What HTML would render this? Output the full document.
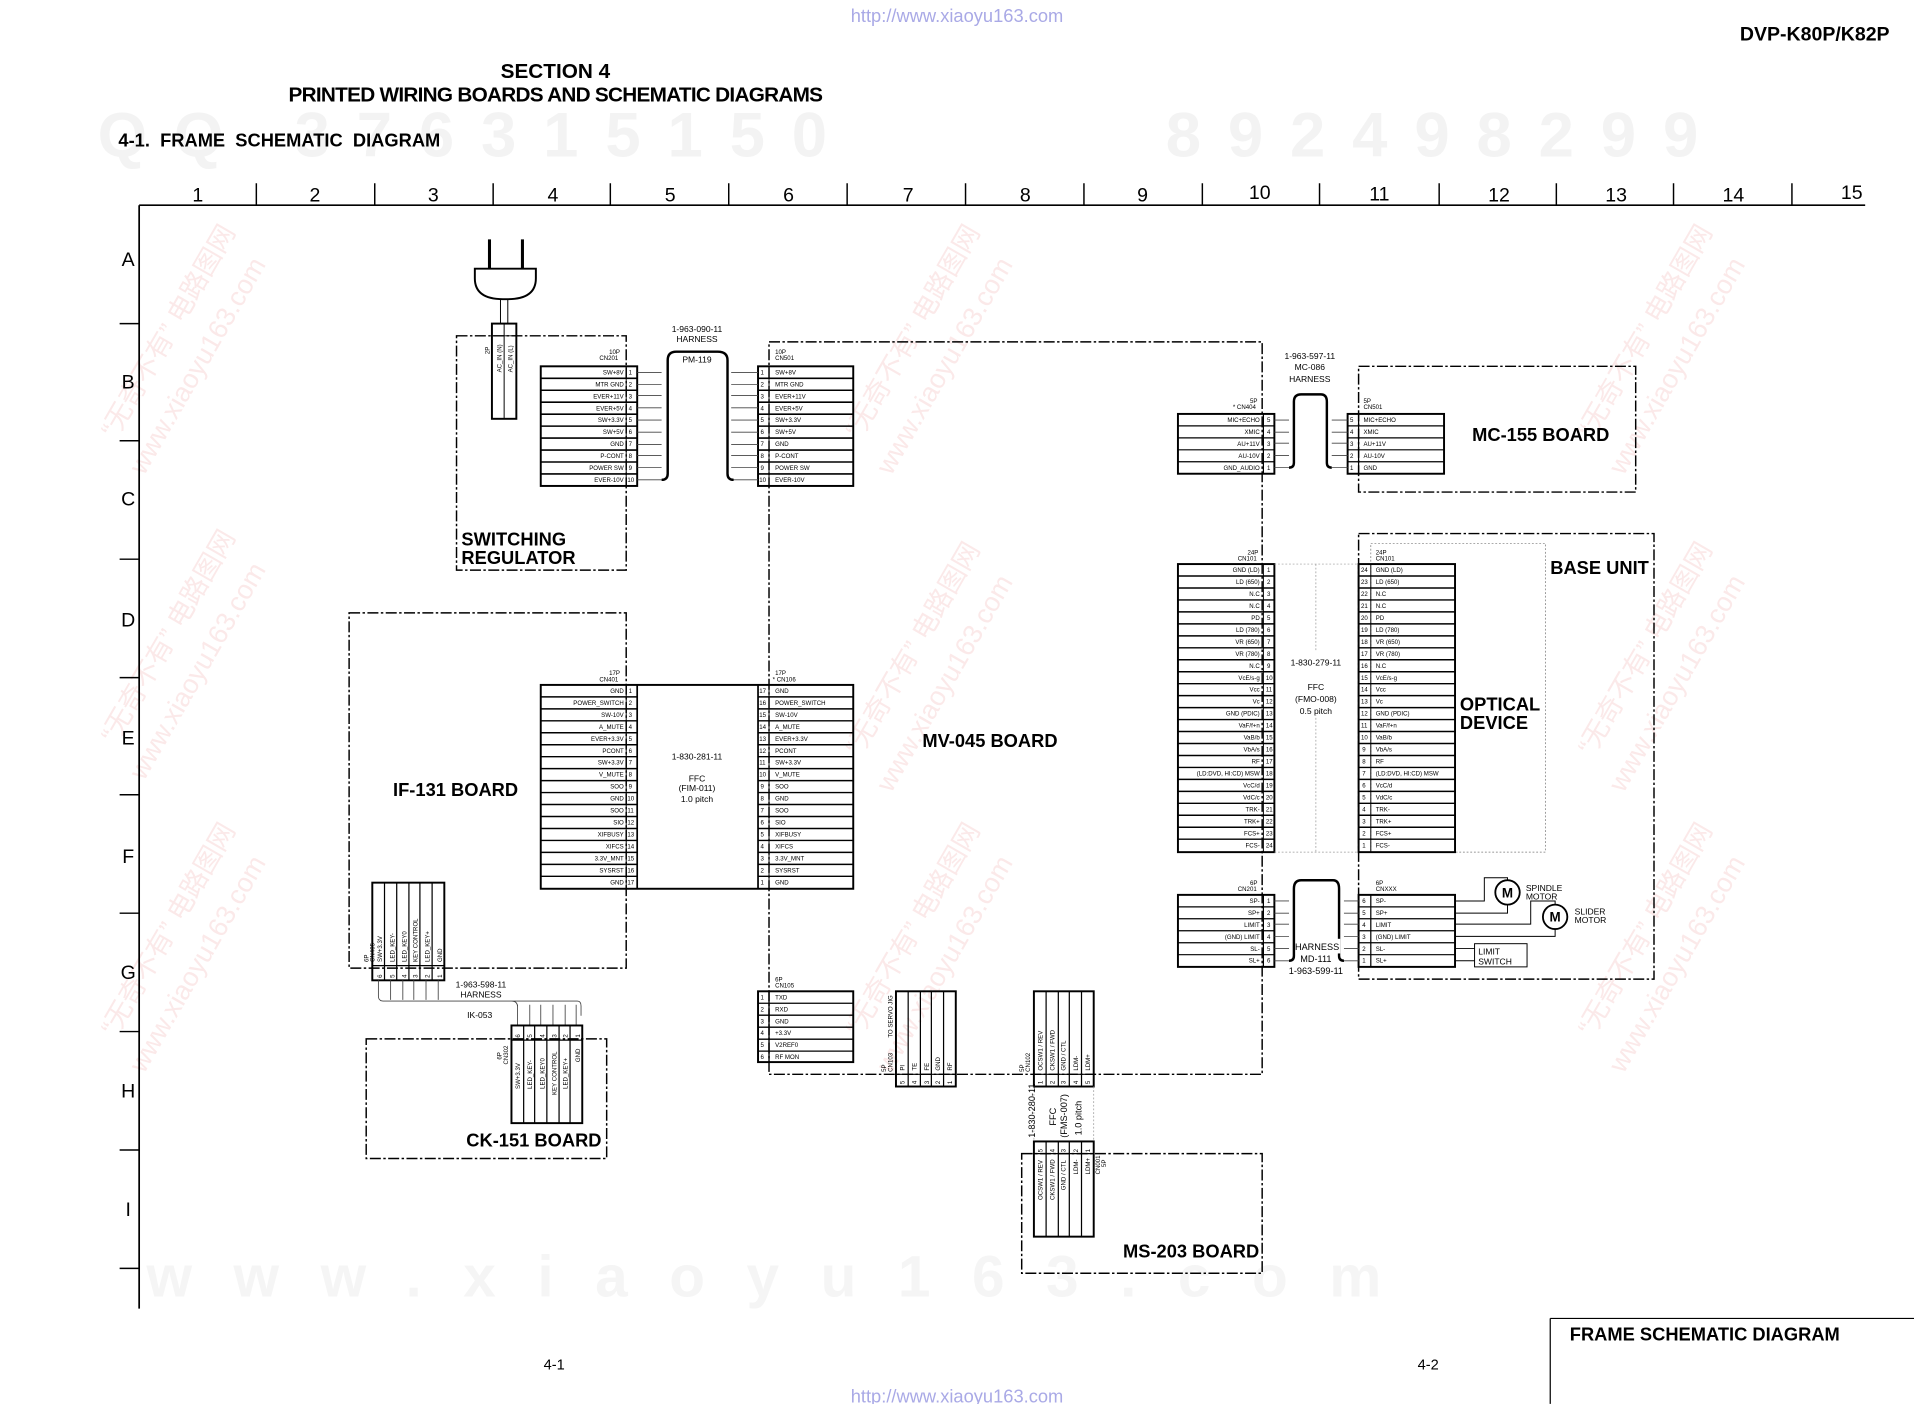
<!DOCTYPE html>
<html><head><meta charset="utf-8"><style>
html,body{margin:0;padding:0;background:#fff;width:1914px;height:1404px;overflow:hidden}
svg{display:block}
text{font-family:"Liberation Sans",sans-serif;fill:#000}
.t{font-size:5px}
.b{font-weight:bold}
.d{fill:none;stroke:#000;stroke-width:1.2;stroke-dasharray:9,2,2,2}
.k{fill:none;stroke:#000;stroke-width:1.6}
.s{fill:none;stroke:#000;stroke-width:0.8}
.w{fill:none;stroke:#444;stroke-width:0.7}
.wm{fill:#fbe9e9 !important}
</style></head><body>
<svg width="1914" height="1404" viewBox="0 0 1568 1150" xmlns="http://www.w3.org/2000/svg">
<rect width="1568" height="1150" fill="#fff"/>
<!-- watermarks -->
<text x="80" y="128" font-size="52" style="fill:#f3f3f3;font-weight:bold;letter-spacing:22px">QQ 376315150</text>
<text x="955" y="128" font-size="52" style="fill:#f3f3f3;font-weight:bold;letter-spacing:22px">892498299</text>
<text x="120" y="1062" font-size="48" style="fill:#f5f5f5;font-weight:bold;letter-spacing:34px">www.xiaoyu163.com</text>
<g font-size="22" font-family="Liberation Sans, Noto Sans CJK SC, sans-serif">
<text class="wm" transform="translate(118,390) rotate(-60)">www.xiaoyu163.com</text>
<text class="wm" transform="translate(95,360) rotate(-60)" font-family="Noto Sans CJK SC, sans-serif">“无奇不有” 电路图网</text>
<text class="wm" transform="translate(730,390) rotate(-60)">www.xiaoyu163.com</text>
<text class="wm" transform="translate(705,360) rotate(-60)" font-family="Noto Sans CJK SC, sans-serif">“无奇不有” 电路图网</text>
<text class="wm" transform="translate(1330,390) rotate(-60)">www.xiaoyu163.com</text>
<text class="wm" transform="translate(1305,360) rotate(-60)" font-family="Noto Sans CJK SC, sans-serif">“无奇不有” 电路图网</text>
<text class="wm" transform="translate(118,640) rotate(-60)">www.xiaoyu163.com</text>
<text class="wm" transform="translate(95,610) rotate(-60)" font-family="Noto Sans CJK SC, sans-serif">“无奇不有” 电路图网</text>
<text class="wm" transform="translate(730,650) rotate(-60)">www.xiaoyu163.com</text>
<text class="wm" transform="translate(705,620) rotate(-60)" font-family="Noto Sans CJK SC, sans-serif">“无奇不有” 电路图网</text>
<text class="wm" transform="translate(1330,650) rotate(-60)">www.xiaoyu163.com</text>
<text class="wm" transform="translate(1305,620) rotate(-60)" font-family="Noto Sans CJK SC, sans-serif">“无奇不有” 电路图网</text>
<text class="wm" transform="translate(118,880) rotate(-60)">www.xiaoyu163.com</text>
<text class="wm" transform="translate(95,850) rotate(-60)" font-family="Noto Sans CJK SC, sans-serif">“无奇不有” 电路图网</text>
<text class="wm" transform="translate(730,880) rotate(-60)">www.xiaoyu163.com</text>
<text class="wm" transform="translate(705,850) rotate(-60)" font-family="Noto Sans CJK SC, sans-serif">“无奇不有” 电路图网</text>
<text class="wm" transform="translate(1330,880) rotate(-60)">www.xiaoyu163.com</text>
<text class="wm" transform="translate(1305,850) rotate(-60)" font-family="Noto Sans CJK SC, sans-serif">“无奇不有” 电路图网</text>
</g>
<!-- header -->
<text x="784" y="18" font-size="15" text-anchor="middle" style="fill:#a9a9e6">http://www.xiaoyu163.com</text>
<text x="1548" y="33" font-size="16" class="b" text-anchor="end">DVP-K80P/K82P</text>
<text x="455" y="64" font-size="17" class="b" text-anchor="middle">SECTION 4</text>
<text x="455" y="83" font-size="17" class="b" text-anchor="middle" letter-spacing="-0.6">PRINTED WIRING BOARDS AND SCHEMATIC DIAGRAMS</text>
<text x="97" y="120" font-size="15" class="b" style="white-space:pre" xml:space="preserve">4-1.  FRAME  SCHEMATIC  DIAGRAM</text>
<!-- ruler -->
<path d="M114 168H1528M114 168V1072" stroke="#000" stroke-width="1.4" fill="none"/>
<path d="M210 150V168M307 150V168M404 150V168M500 150V168M597 150V168M694 150V168M791 150V168M888 150V168M985 150V168M1081 150V168M1179 150V168M1275 150V168M1371 150V168M1468 150V168" stroke="#000" stroke-width="1.2"/>
<g font-size="16" text-anchor="middle">
<text x="162" y="165">1</text><text x="258" y="165">2</text><text x="355" y="165">3</text><text x="453" y="165">4</text><text x="549" y="165">5</text><text x="646" y="165">6</text><text x="744" y="165">7</text><text x="840" y="165">8</text><text x="936" y="165">9</text><text x="1032" y="163">10</text><text x="1130" y="164">11</text><text x="1228" y="165">12</text><text x="1324" y="165">13</text><text x="1420" y="165">14</text><text x="1517" y="163">15</text>
<text x="105" y="218">A</text><text x="105" y="318">B</text><text x="105" y="414">C</text><text x="105" y="513">D</text><text x="105" y="610">E</text><text x="105" y="707">F</text><text x="105" y="802">G</text><text x="105" y="899">H</text><text x="105" y="996">I</text>
</g>
<path d="M98 265H114M98 361H114M98 458H114M98 555H114M98 651H114M98 748H114M98 845H114M98 942H114M98 1039H114" stroke="#000" stroke-width="1.2"/>
<!-- footer -->
<path d="M1270 1080H1568M1270 1080V1150" stroke="#000" stroke-width="1"/>
<text x="1286" y="1098" font-size="15" class="b">FRAME SCHEMATIC DIAGRAM</text>
<text x="454" y="1122" font-size="12" text-anchor="middle">4-1</text>
<text x="1170" y="1122" font-size="12" text-anchor="middle">4-2</text>
<text x="784" y="1149" font-size="15" text-anchor="middle" style="fill:#a9a9e6">http://www.xiaoyu163.com</text>

<!-- dashed boards -->
<rect x="374" y="275" width="139" height="192" class="d"/>
<path d="M630 835V280H1034V880H630V835" class="d"/>
<rect x="1113" y="300" width="227" height="103" class="d"/>
<rect x="1113" y="437" width="242" height="365" class="d"/>
<rect x="1123" y="445" width="143" height="253" fill="none" stroke="#777" stroke-width="0.6" stroke-dasharray="1.5,1.5"/>
<rect x="286" y="502" width="227" height="291" class="d"/>
<rect x="300" y="851" width="197" height="98" class="d"/>
<rect x="837" y="945" width="197" height="98" class="d"/>

<g class="b" font-size="15">
<text x="378" y="447">SWITCHING</text><text x="378" y="462">REGULATOR</text>
<text x="1206" y="361">MC-155 BOARD</text>
<text x="1270" y="470">BASE UNIT</text>
<text x="1196" y="582">OPTICAL</text><text x="1196" y="597">DEVICE</text>
<text x="811" y="612" text-anchor="middle">MV-045 BOARD</text>
<text x="322" y="652">IF-131 BOARD</text>
<text x="382" y="939">CK-151 BOARD</text>
<text x="920" y="1030">MS-203 BOARD</text>
</g>

<!-- plug -->
<path d="M401 196V220M428 196V220" stroke="#000" stroke-width="2.5"/>
<path d="M389 220H439V228Q439 245 416 245H412Q389 245 389 228Z" fill="#fff" stroke="#000" stroke-width="1.6"/>
<path d="M410 245V265M416 245V265" class="s"/>
<rect x="403" y="265" width="20" height="78" class="k"/>
<path d="M413 265V343M403 275H423" class="s"/>
<g class="t"><text transform="translate(401,290) rotate(-90)">2P</text><text transform="translate(411,305) rotate(-90)">AC_IN (N)</text><text transform="translate(420,305) rotate(-90)">AC_IN (L)</text></g>

<!-- CN201 / CN501 10 rows -->
<g transform="translate(0,300)">
<rect x="443" y="0" width="79" height="98" class="k"/><rect x="621" y="0" width="78" height="98" class="k"/>
<path d="M443 9.8h79M443 19.6h79M443 29.4h79M443 39.2h79M443 49h79M443 58.8h79M443 68.6h79M443 78.4h79M443 88.2h79M621 9.8h78M621 19.6h78M621 29.4h78M621 39.2h78M621 49h78M621 58.8h78M621 68.6h78M621 78.4h78M621 88.2h78" stroke="#000" stroke-width="1.3"/>
<path d="M513 0V98M630 0V98" class="s"/>
<g class="t" text-anchor="end"><text x="511" y="6.6">SW+8V</text><text x="511" y="16.4">MTR GND</text><text x="511" y="26.2">EVER+11V</text><text x="511" y="36">EVER+5V</text><text x="511" y="45.8">SW+3.3V</text><text x="511" y="55.6">SW+5V</text><text x="511" y="65.4">GND</text><text x="511" y="75.2">P-CONT</text><text x="511" y="85">POWER SW</text><text x="511" y="94.8">EVER-10V</text></g>
<g class="t"><text x="515" y="6.6">1</text><text x="515" y="16.4">2</text><text x="515" y="26.2">3</text><text x="515" y="36">4</text><text x="515" y="45.8">5</text><text x="515" y="55.6">6</text><text x="515" y="65.4">7</text><text x="515" y="75.2">8</text><text x="515" y="85">9</text><text x="514" y="94.8">10</text>
<text x="623" y="6.6">1</text><text x="623" y="16.4">2</text><text x="623" y="26.2">3</text><text x="623" y="36">4</text><text x="623" y="45.8">5</text><text x="623" y="55.6">6</text><text x="623" y="65.4">7</text><text x="623" y="75.2">8</text><text x="623" y="85">9</text><text x="622" y="94.8">10</text>
<text x="635" y="6.6">SW+8V</text><text x="635" y="16.4">MTR GND</text><text x="635" y="26.2">EVER+11V</text><text x="635" y="36">EVER+5V</text><text x="635" y="45.8">SW+3.3V</text><text x="635" y="55.6">SW+5V</text><text x="635" y="65.4">GND</text><text x="635" y="75.2">P-CONT</text><text x="635" y="85">POWER SW</text><text x="635" y="94.8">EVER-10V</text>
<text x="491" y="-5">CN201</text><text x="499" y="-10">10P</text><text x="635" y="-5">CN501</text><text x="635" y="-10">10P</text></g>
<path d="M522 5H542M522 15H542M522 24H542M522 34H542M522 44H542M522 54H542M522 64H542M522 73H542M522 83H542M522 93H542M599 5H621M599 15H621M599 24H621M599 34H621M599 44H621M599 54H621M599 64H621M599 73H621M599 83H621M599 93H621" class="w"/>
<path d="M542 93Q547 93 547 88V-5Q547 -12 554 -12H588Q596 -12 596 -5V88Q596 93 601 93" fill="none" stroke="#000" stroke-width="2"/>
</g>
<text x="571" y="272" font-size="7" text-anchor="middle">1-963-090-11</text><text x="571" y="280" font-size="7" text-anchor="middle">HARNESS</text><text x="571" y="297" font-size="7" text-anchor="middle">PM-119</text>

<!-- CN404 / MC CN501 -->
<g transform="translate(0,339)">
<rect x="965" y="0" width="79" height="49" class="k"/><rect x="1104" y="0" width="79" height="49" class="k"/>
<path d="M965 9.8h79M965 19.6h79M965 29.4h79M965 39.2h79M1104 9.8h79M1104 19.6h79M1104 29.4h79M1104 39.2h79M1035 0V49M1113 0V49" stroke="#000" stroke-width="1"/>
<g class="t" text-anchor="end"><text x="1032" y="6.6">MIC+ECHO</text><text x="1032" y="16.4">XMIC</text><text x="1032" y="26.2">AU+11V</text><text x="1032" y="36">AU-10V</text><text x="1032" y="45.8">GND_AUDIO</text></g>
<g class="t"><text x="1038" y="6.6">5</text><text x="1038" y="16.4">4</text><text x="1038" y="26.2">3</text><text x="1038" y="36">2</text><text x="1038" y="45.8">1</text>
<text x="1106" y="6.6">5</text><text x="1106" y="16.4">4</text><text x="1106" y="26.2">3</text><text x="1106" y="36">2</text><text x="1106" y="45.8">1</text>
<text x="1117" y="6.6">MIC+ECHO</text><text x="1117" y="16.4">XMIC</text><text x="1117" y="26.2">AU+11V</text><text x="1117" y="36">AU-10V</text><text x="1117" y="45.8">GND</text>
<text x="1010" y="-4">* CN404</text><text x="1024" y="-9">5P</text><text x="1117" y="-4">CN501</text><text x="1117" y="-9">5P</text></g>
<path d="M1044 5H1056M1044 15H1056M1044 24H1056M1044 34H1056M1044 44H1056M1091 5H1104M1091 15H1104M1091 24H1104M1091 34H1104M1091 44H1104" class="w"/>
<path d="M1056 44Q1060 44 1060 40V-10Q1060 -16 1066 -16H1082Q1087 -16 1087 -10V40Q1087 44 1091 44" fill="none" stroke="#000" stroke-width="2"/>
</g>
<g font-size="7" text-anchor="middle"><text x="1073" y="294">1-963-597-11</text><text x="1073" y="303">MC-086</text><text x="1073" y="313">HARNESS</text></g>

<!-- CN101 24 rows -->
<g transform="translate(0,462)">
<rect x="965" y="0" width="79" height="236" class="k"/><rect x="1113" y="0" width="79" height="236" class="k"/>
<path d="M1044 0H1113M1044 236H1113M1078 0V236" stroke="#999" stroke-width="0.6" stroke-dasharray="1.5,1.5"/>
<path d="M965 9.8h79M965 19.6h79M965 29.4h79M965 39.2h79M965 49h79M965 58.8h79M965 68.6h79M965 78.4h79M965 88.2h79M965 98h79M965 107.8h79M965 117.6h79M965 127.4h79M965 137.2h79M965 147h79M965 156.8h79M965 166.6h79M965 176.4h79M965 186.2h79M965 196h79M965 205.8h79M965 215.6h79M965 225.4h79M1113 9.8h79M1113 19.6h79M1113 29.4h79M1113 39.2h79M1113 49h79M1113 58.8h79M1113 68.6h79M1113 78.4h79M1113 88.2h79M1113 98h79M1113 107.8h79M1113 117.6h79M1113 127.4h79M1113 137.2h79M1113 147h79M1113 156.8h79M1113 166.6h79M1113 176.4h79M1113 186.2h79M1113 196h79M1113 205.8h79M1113 215.6h79M1113 225.4h79" stroke="#000" stroke-width="1.2"/>
<path d="M1035 0V236M1123 0V236" class="s"/>
<g class="t" text-anchor="end"><text x="1032" y="6.6">GND (LD)</text><text x="1032" y="16.4">LD (650)</text><text x="1032" y="26.2">N.C</text><text x="1032" y="36">N.C</text><text x="1032" y="45.8">PD</text><text x="1032" y="55.6">LD (780)</text><text x="1032" y="65.4">VR (650)</text><text x="1032" y="75.2">VR (780)</text><text x="1032" y="85">N.C</text><text x="1032" y="94.8">VcE/s-g</text><text x="1032" y="104.6">Vcc</text><text x="1032" y="114.4">Vc</text><text x="1032" y="124.2">GND (PDIC)</text><text x="1032" y="134">VaF/f+n</text><text x="1032" y="143.8">VaB/b</text><text x="1032" y="153.6">VbA/s</text><text x="1032" y="163.4">RF</text><text x="1032" y="173.2">(LD:DVD, HI:CD) MSW</text><text x="1032" y="183">VcC/d</text><text x="1032" y="192.8">VdC/c</text><text x="1032" y="202.6">TRK-</text><text x="1032" y="212.4">TRK+</text><text x="1032" y="222.2">FCS+</text><text x="1032" y="232">FCS-</text></g>
<g class="t"><text x="1038" y="6.6">1</text><text x="1038" y="16.4">2</text><text x="1038" y="26.2">3</text><text x="1038" y="36">4</text><text x="1038" y="45.8">5</text><text x="1038" y="55.6">6</text><text x="1038" y="65.4">7</text><text x="1038" y="75.2">8</text><text x="1038" y="85">9</text><text x="1037" y="94.8">10</text><text x="1037" y="104.6">11</text><text x="1037" y="114.4">12</text><text x="1037" y="124.2">13</text><text x="1037" y="134">14</text><text x="1037" y="143.8">15</text><text x="1037" y="153.6">16</text><text x="1037" y="163.4">17</text><text x="1037" y="173.2">18</text><text x="1037" y="183">19</text><text x="1037" y="192.8">20</text><text x="1037" y="202.6">21</text><text x="1037" y="212.4">22</text><text x="1037" y="222.2">23</text><text x="1037" y="232">24</text>
<text x="1115" y="6.6">24</text><text x="1115" y="16.4">23</text><text x="1115" y="26.2">22</text><text x="1115" y="36">21</text><text x="1115" y="45.8">20</text><text x="1115" y="55.6">19</text><text x="1115" y="65.4">18</text><text x="1115" y="75.2">17</text><text x="1115" y="85">16</text><text x="1115" y="94.8">15</text><text x="1115" y="104.6">14</text><text x="1115" y="114.4">13</text><text x="1115" y="124.2">12</text><text x="1115" y="134">11</text><text x="1115" y="143.8">10</text><text x="1116" y="153.6">9</text><text x="1116" y="163.4">8</text><text x="1116" y="173.2">7</text><text x="1116" y="183">6</text><text x="1116" y="192.8">5</text><text x="1116" y="202.6">4</text><text x="1116" y="212.4">3</text><text x="1116" y="222.2">2</text><text x="1116" y="232">1</text>
<text x="1127" y="6.6">GND (LD)</text><text x="1127" y="16.4">LD (650)</text><text x="1127" y="26.2">N.C</text><text x="1127" y="36">N.C</text><text x="1127" y="45.8">PD</text><text x="1127" y="55.6">LD (780)</text><text x="1127" y="65.4">VR (650)</text><text x="1127" y="75.2">VR (780)</text><text x="1127" y="85">N.C</text><text x="1127" y="94.8">VcE/s-g</text><text x="1127" y="104.6">Vcc</text><text x="1127" y="114.4">Vc</text><text x="1127" y="124.2">GND (PDIC)</text><text x="1127" y="134">VaF/f+n</text><text x="1127" y="143.8">VaB/b</text><text x="1127" y="153.6">VbA/s</text><text x="1127" y="163.4">RF</text><text x="1127" y="173.2">(LD:DVD, HI:CD) MSW</text><text x="1127" y="183">VcC/d</text><text x="1127" y="192.8">VdC/c</text><text x="1127" y="202.6">TRK-</text><text x="1127" y="212.4">TRK+</text><text x="1127" y="222.2">FCS+</text><text x="1127" y="232">FCS-</text>
<text x="1014" y="-3">CN101</text><text x="1022" y="-8">24P</text><text x="1127" y="-3">CN101</text><text x="1127" y="-8">24P</text></g>
</g>
<g font-size="7" text-anchor="middle"><rect x="1050" y="534" width="56" height="52" fill="#fff"/><text x="1078" y="545">1-830-279-11</text><text x="1078" y="565">FFC</text><text x="1078" y="575">(FMO-008)</text><text x="1078" y="585">0.5 pitch</text></g>

<!-- 6P motor connectors -->
<g transform="translate(0,733)">
<rect x="965" y="0" width="79" height="59" class="k"/><rect x="1113" y="0" width="79" height="59" class="k"/>
<path d="M965 9.8h79M965 19.6h79M965 29.4h79M965 39.2h79M965 49h79M1113 9.8h79M1113 19.6h79M1113 29.4h79M1113 39.2h79M1113 49h79M1035 0V59M1123 0V59" stroke="#000" stroke-width="1"/>
<g class="t" text-anchor="end"><text x="1032" y="6.6">SP-</text><text x="1032" y="16.4">SP+</text><text x="1032" y="26.2">LIMIT</text><text x="1032" y="36">(GND) LIMIT</text><text x="1032" y="45.8">SL-</text><text x="1032" y="55.6">SL+</text></g>
<g class="t"><text x="1038" y="6.6">1</text><text x="1038" y="16.4">2</text><text x="1038" y="26.2">3</text><text x="1038" y="36">4</text><text x="1038" y="45.8">5</text><text x="1038" y="55.6">6</text>
<text x="1116" y="6.6">6</text><text x="1116" y="16.4">5</text><text x="1116" y="26.2">4</text><text x="1116" y="36">3</text><text x="1116" y="45.8">2</text><text x="1116" y="55.6">1</text>
<text x="1127" y="6.6">SP-</text><text x="1127" y="16.4">SP+</text><text x="1127" y="26.2">LIMIT</text><text x="1127" y="36">(GND) LIMIT</text><text x="1127" y="45.8">SL-</text><text x="1127" y="55.6">SL+</text>
<text x="1014" y="-3">CN201</text><text x="1024" y="-8">6P</text><text x="1127" y="-3">CNXXX</text><text x="1127" y="-8">6P</text></g>
<path d="M1044 5H1056M1044 15H1056M1044 24H1056M1044 34H1056M1044 44H1056M1044 54H1056M1101 5H1113M1101 15H1113M1101 24H1113M1101 34H1113M1101 44H1113M1101 54H1113" class="w"/>
<path d="M1056 54Q1060 54 1060 50V-5Q1060 -12 1066 -12H1092Q1097 -12 1097 -5V50Q1097 54 1101 54" fill="none" stroke="#000" stroke-width="2"/>
<path d="M1192 5H1216V-14H1235V-8M1192 15H1235V8M1192 24H1254V5H1274V8M1192 34H1274V28M1192 44H1208M1192 54H1208" class="s"/>
</g>
<rect x="1064" y="769" width="34" height="12" fill="#fff"/>
<g font-size="7.5" text-anchor="middle"><text x="1079" y="778">HARNESS</text><text x="1078" y="788">MD-111</text><text x="1078" y="798">1-963-599-11</text></g>
<circle cx="1235" cy="731" r="10" fill="#fff" stroke="#000" stroke-width="1.5"/><text x="1235" y="735" font-size="11" class="b" text-anchor="middle">M</text>
<circle cx="1274" cy="751" r="10" fill="#fff" stroke="#000" stroke-width="1.5"/><text x="1274" y="755" font-size="11" class="b" text-anchor="middle">M</text>
<g font-size="7"><text x="1250" y="730">SPINDLE</text><text x="1250" y="737">MOTOR</text><text x="1290" y="749">SLIDER</text><text x="1290" y="756">MOTOR</text><text x="1211" y="782">LIMIT</text><text x="1211" y="790">SWITCH</text></g>
<rect x="1208" y="773" width="43" height="19" class="s"/>

<!-- CN401 / CN106 17 rows -->
<g transform="translate(0,561)">
<rect x="443" y="0" width="256" height="167" class="k"/>
<path d="M522 0V167M621 0V167" stroke="#000" stroke-width="1.4"/>
<path d="M443 9.8h79M443 19.6h79M443 29.4h79M443 39.2h79M443 49h79M443 58.8h79M443 68.6h79M443 78.4h79M443 88.2h79M443 98h79M443 107.8h79M443 117.6h79M443 127.4h79M443 137.2h79M443 147h79M443 156.8h79M621 9.8h78M621 19.6h78M621 29.4h78M621 39.2h78M621 49h78M621 58.8h78M621 68.6h78M621 78.4h78M621 88.2h78M621 98h78M621 107.8h78M621 117.6h78M621 127.4h78M621 137.2h78M621 147h78M621 156.8h78" stroke="#000" stroke-width="1.2"/>
<path d="M513 0V167M630 0V167" class="s"/>
<g class="t" text-anchor="end"><text x="511" y="6.6">GND</text><text x="511" y="16.4">POWER_SWITCH</text><text x="511" y="26.2">SW-10V</text><text x="511" y="36">A_MUTE</text><text x="511" y="45.8">EVER+3.3V</text><text x="511" y="55.6">PCONT</text><text x="511" y="65.4">SW+3.3V</text><text x="511" y="75.2">V_MUTE</text><text x="511" y="85">SOO</text><text x="511" y="94.8">GND</text><text x="511" y="104.6">SOO</text><text x="511" y="114.4">SIO</text><text x="511" y="124.2">XIFBUSY</text><text x="511" y="134">XIFCS</text><text x="511" y="143.8">3.3V_MNT</text><text x="511" y="153.6">SYSRST</text><text x="511" y="163.4">GND</text></g>
<g class="t"><text x="515" y="6.6">1</text><text x="515" y="16.4">2</text><text x="515" y="26.2">3</text><text x="515" y="36">4</text><text x="515" y="45.8">5</text><text x="515" y="55.6">6</text><text x="515" y="65.4">7</text><text x="515" y="75.2">8</text><text x="515" y="85">9</text><text x="514" y="94.8">10</text><text x="514" y="104.6">11</text><text x="514" y="114.4">12</text><text x="514" y="124.2">13</text><text x="514" y="134">14</text><text x="514" y="143.8">15</text><text x="514" y="153.6">16</text><text x="514" y="163.4">17</text>
<text x="622" y="6.6">17</text><text x="622" y="16.4">16</text><text x="622" y="26.2">15</text><text x="622" y="36">14</text><text x="622" y="45.8">13</text><text x="622" y="55.6">12</text><text x="622" y="65.4">11</text><text x="622" y="75.2">10</text><text x="623" y="85">9</text><text x="623" y="94.8">8</text><text x="623" y="104.6">7</text><text x="623" y="114.4">6</text><text x="623" y="124.2">5</text><text x="623" y="134">4</text><text x="623" y="143.8">3</text><text x="623" y="153.6">2</text><text x="623" y="163.4">1</text>
<text x="635" y="6.6">GND</text><text x="635" y="16.4">POWER_SWITCH</text><text x="635" y="26.2">SW-10V</text><text x="635" y="36">A_MUTE</text><text x="635" y="45.8">EVER+3.3V</text><text x="635" y="55.6">PCONT</text><text x="635" y="65.4">SW+3.3V</text><text x="635" y="75.2">V_MUTE</text><text x="635" y="85">SOO</text><text x="635" y="94.8">GND</text><text x="635" y="104.6">SOO</text><text x="635" y="114.4">SIO</text><text x="635" y="124.2">XIFBUSY</text><text x="635" y="134">XIFCS</text><text x="635" y="143.8">3.3V_MNT</text><text x="635" y="153.6">SYSRST</text><text x="635" y="163.4">GND</text>
<text x="491" y="-3">CN401</text><text x="499" y="-8">17P</text><text x="633" y="-3">* CN106</text><text x="635" y="-8">17P</text></g>
</g>
<g font-size="7" text-anchor="middle"><text x="571" y="622">1-830-281-11</text><text x="571" y="640">FFC</text><text x="571" y="648">(FIM-011)</text><text x="571" y="657">1.0 pitch</text></g>

<!-- CN405 vertical -->
<rect x="305" y="723" width="59" height="80" class="k"/>
<path d="M315 723V803M325 723V803M335 723V803M344 723V803M354 723V803M305 791H364" stroke="#000" stroke-width="1"/>
<g class="t">
<text transform="translate(302,788) rotate(-90)">6P</text><text transform="translate(307,788) rotate(-90)">CN405</text>
<text transform="translate(313,788) rotate(-90)">SW+3.3V</text><text transform="translate(323,788) rotate(-90)">LED_KEY-</text><text transform="translate(333,788) rotate(-90)">LED_KEY0</text><text transform="translate(342,788) rotate(-90)">KEY CONTROL</text><text transform="translate(352,788) rotate(-90)">LED_KEY+</text><text transform="translate(362,788) rotate(-90)">GND</text>
<text transform="translate(313,801) rotate(-90)">6</text><text transform="translate(323,801) rotate(-90)">5</text><text transform="translate(333,801) rotate(-90)">4</text><text transform="translate(342,801) rotate(-90)">3</text><text transform="translate(352,801) rotate(-90)">2</text><text transform="translate(362,801) rotate(-90)">1</text>
</g>
<path d="M310 803V816Q310 820 314 820H473Q476 820 476 824V832M320 803V819M330 803V819M339 803V819M349 803V819M359 803V819M424 823V840M434 823V840M443 823V840M453 823V840M463 823V840M472 823V840M419 820Q424 820 424 825" class="w"/>
<g font-size="7" text-anchor="middle"><text x="394" y="809">1-963-598-11</text><text x="394" y="817">HARNESS</text><text x="393" y="834">IK-053</text></g>
<rect x="419" y="840" width="58" height="80" class="k"/>
<path d="M429 840V920M438 840V920M448 840V920M458 840V920M467 840V920M419 852H477" stroke="#000" stroke-width="1"/>
<g class="t">
<text transform="translate(426,850) rotate(-90)">6</text><text transform="translate(436,850) rotate(-90)">5</text><text transform="translate(446,850) rotate(-90)">4</text><text transform="translate(456,850) rotate(-90)">3</text><text transform="translate(465,850) rotate(-90)">2</text><text transform="translate(475,850) rotate(-90)">1</text>
<text transform="translate(426,892) rotate(-90)">SW+3.3V</text><text transform="translate(436,892) rotate(-90)">LED_KEY-</text><text transform="translate(446,892) rotate(-90)">LED_KEY0</text><text transform="translate(456,897) rotate(-90)">KEY CONTROL</text><text transform="translate(465,892) rotate(-90)">LED_KEY+</text><text transform="translate(475,870) rotate(-90)">GND</text>
<text transform="translate(411,868) rotate(-90)">6P</text><text transform="translate(416,872) rotate(-90)">CN302</text>
</g>

<!-- CN105 -->
<g transform="translate(0,812)">
<rect x="621" y="0" width="78" height="58" class="k"/>
<path d="M621 9.8h78M621 19.6h78M621 29.4h78M621 39.2h78M621 49h78M630 0V58" stroke="#000" stroke-width="1.1"/>
<g class="t"><text x="623" y="6.6">1</text><text x="623" y="16.4">2</text><text x="623" y="26.2">3</text><text x="623" y="36">4</text><text x="623" y="45.8">5</text><text x="623" y="55.6">6</text>
<text x="635" y="6.6">TXD</text><text x="635" y="16.4">RXD</text><text x="635" y="26.2">GND</text><text x="635" y="36">+3.3V</text><text x="635" y="45.8">V2REF0</text><text x="635" y="55.6">RF MON</text>
<text x="635" y="-3">CN105</text><text x="635" y="-8">6P</text></g>
</g>
<!-- CN103 -->
<rect x="734" y="812" width="49" height="78" class="k"/>
<path d="M744 812V890M754 812V890M763 812V890M773 812V890M734 880H783" stroke="#000" stroke-width="1"/>
<g class="t">
<text transform="translate(741,877) rotate(-90)">PI</text><text transform="translate(751,877) rotate(-90)">TE</text><text transform="translate(761,877) rotate(-90)">FE</text><text transform="translate(770,877) rotate(-90)">GND</text><text transform="translate(780,877) rotate(-90)">RF</text>
<text transform="translate(741,888) rotate(-90)">5</text><text transform="translate(751,888) rotate(-90)">4</text><text transform="translate(761,888) rotate(-90)">3</text><text transform="translate(770,888) rotate(-90)">2</text><text transform="translate(780,888) rotate(-90)">1</text>
<text transform="translate(726,878) rotate(-90)">5P</text><text transform="translate(731,878) rotate(-90)">CN103</text><text transform="translate(731,850) rotate(-90)">TO SERVO JIG</text>
</g>
<!-- CN102 -->
<rect x="847" y="812" width="49" height="78" class="k"/>
<path d="M857 812V890M867 812V890M876 812V890M886 812V890M847 880H896" stroke="#000" stroke-width="1"/>
<path d="M847 890V935M896 890V935" stroke="#999" stroke-width="0.6" stroke-dasharray="1.5,1.5"/>
<g class="t">
<text transform="translate(854,877) rotate(-90)">OCSW1 / REV</text><text transform="translate(864,877) rotate(-90)">CKSW1 / FWD</text><text transform="translate(873,877) rotate(-90)">GND / CTL</text><text transform="translate(883,877) rotate(-90)">LDM-</text><text transform="translate(893,877) rotate(-90)">LDM+</text>
<text transform="translate(854,888) rotate(-90)">1</text><text transform="translate(864,888) rotate(-90)">2</text><text transform="translate(873,888) rotate(-90)">3</text><text transform="translate(883,888) rotate(-90)">4</text><text transform="translate(893,888) rotate(-90)">5</text>
<text transform="translate(839,878) rotate(-90)">5P</text><text transform="translate(844,878) rotate(-90)">CN102</text>
</g>
<g font-size="7.5"><text transform="translate(848,932) rotate(-90)">1-830-280-11</text><text transform="translate(865,922) rotate(-90)">FFC</text><text transform="translate(874,932) rotate(-90)">(FMS-007)</text><text transform="translate(886,930) rotate(-90)">1.0 pitch</text></g>
<!-- MS CN -->
<rect x="847" y="935" width="49" height="78" class="k"/>
<path d="M857 935V1013M867 935V1013M876 935V1013M886 935V1013M847 945H896" stroke="#000" stroke-width="1"/>
<g class="t">
<text transform="translate(854,944) rotate(-90)">5</text><text transform="translate(864,944) rotate(-90)">4</text><text transform="translate(873,944) rotate(-90)">3</text><text transform="translate(883,944) rotate(-90)">2</text><text transform="translate(893,944) rotate(-90)">1</text>
<text transform="translate(854,983) rotate(-90)">OCSW1 / REV</text><text transform="translate(864,983) rotate(-90)">CKSW1 / FWD</text><text transform="translate(873,975) rotate(-90)">GND / CTL</text><text transform="translate(883,962) rotate(-90)">LDM-</text><text transform="translate(893,962) rotate(-90)">LDM+</text>
<text transform="translate(901,962) rotate(-90)">CN001</text><text transform="translate(906,956) rotate(-90)">5P</text>
</g>
</svg>
</body></html>
